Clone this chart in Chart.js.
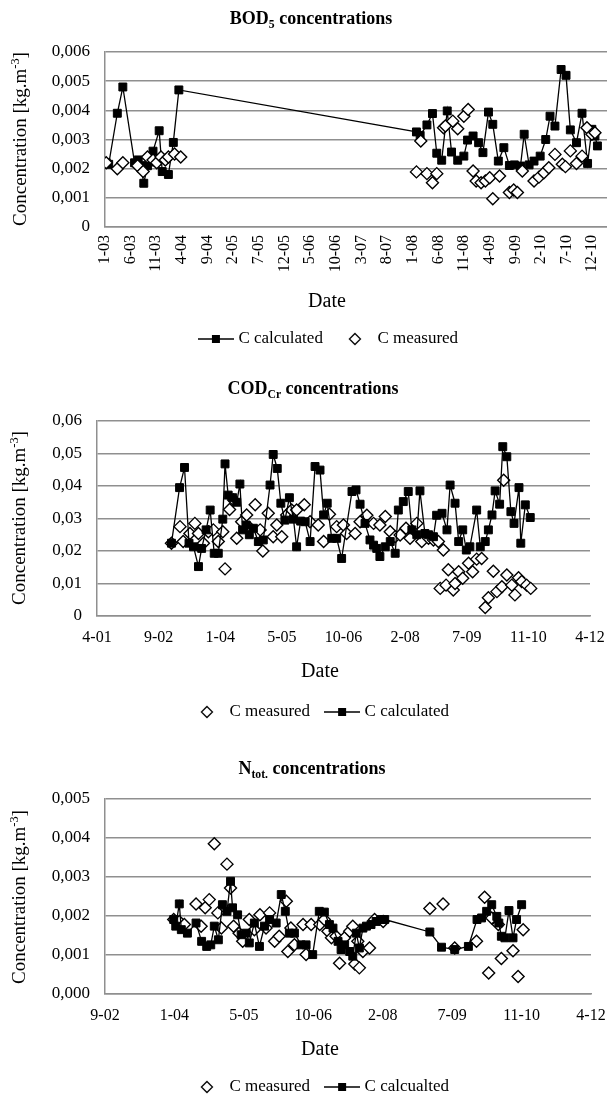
<!DOCTYPE html>
<html>
<head>
<meta charset="utf-8">
<script src="https://cdn.jsdelivr.net/npm/chart.js@4.4.1/dist/chart.umd.min.js"></script>
<style>
    html, body { margin: 0; padding: 0; background: #fff; overflow: hidden; }
    #page { position: relative; width: 607px; height: 1101px; overflow: hidden; font-family: "Liberation Serif", "Times New Roman", serif; color: #000; }
    canvas { position: absolute; left: 0; }
    .label { position: absolute; transform: translate(-50%, -50%); white-space: nowrap; }
    .title { font-weight: bold; font-size: 18px; }
    .date { font-size: 20px; }
    .ytitle { position: absolute; transform: translate(-50%, -50%) rotate(-90deg); white-space: nowrap; font-size: 19px; }
    sub, sup { font-size: 65%; line-height: 0; }
</style>
</head>
<body>
<div id="page">
    <canvas id="bod" width="650" height="365" style="top:0px"></canvas>
    <canvas id="cod" width="607" height="375" style="top:365px"></canvas>
    <canvas id="ntot" width="607" height="370" style="top:740px"></canvas>

    <div class="label title" style="left:311px; top:18px">BOD<sub>5</sub> concentrations</div>
    <div class="ytitle" style="left:20px; top:139px">Concentration [kg.m<sup>-3</sup>]</div>
    <div class="label date" style="left:327px; top:300px">Date</div>

    <div class="label title" style="left:313px; top:388px">COD<sub>Cr</sub> concentrations</div>
    <div class="ytitle" style="left:19px; top:518px">Concentration [kg.m<sup>-3</sup>]</div>
    <div class="label date" style="left:320px; top:670px">Date</div>

    <div class="label title" style="left:312px; top:768px">N<sub>tot.</sub> concentrations</div>
    <div class="ytitle" style="left:19px; top:897px">Concentration [kg.m<sup>-3</sup>]</div>
    <div class="label date" style="left:320px; top:1048px">Date</div>
</div>
<script>
// dates are decimal years, values in kg.m-3

// BOD5
const bodTickLabels = ["1-03", "6-03", "11-03", "4-04", "9-04", "2-05", "7-05", "12-05", "5-06", "10-06",
    "3-07", "8-07", "1-08", "6-08", "11-08", "4-09", "9-09", "2-10", "7-10", "12-10"];

const bodCalcDates = [2003.02, 2003.06, 2003.2, 2003.29, 2003.48, 2003.54, 2003.58, 2003.63, 2003.69, 2003.74,
    2003.78, 2003.88, 2003.93, 2004.03, 2004.11, 2004.2,
    2008.06, 2008.12, 2008.23, 2008.32, 2008.39, 2008.47, 2008.56, 2008.63, 2008.73, 2008.83,
    2008.89, 2008.98, 2009.07, 2009.14, 2009.23, 2009.3, 2009.39, 2009.48, 2009.57, 2009.65,
    2009.75, 2009.81, 2009.89, 2009.97, 2010.07, 2010.16, 2010.23, 2010.31, 2010.41, 2010.49,
    2010.56, 2010.66, 2010.75, 2010.84, 2010.91, 2010.96, 2011.0];
const bodCalcValues = [0.0022, 0.00215, 0.0039, 0.0048, 0.0022, 0.0023, 0.0021, 0.0015, 0.0021, 0.0023,
    0.0026, 0.0033, 0.0019, 0.0018, 0.0029, 0.0047,
    0.00326, 0.00314, 0.0035, 0.00389, 0.00253, 0.00229, 0.00398, 0.00257, 0.00229, 0.00243,
    0.00298, 0.00312, 0.00289, 0.00255, 0.00394, 0.00352, 0.00226, 0.00272, 0.00211, 0.00213,
    0.00209, 0.00318, 0.00213, 0.00226, 0.00243, 0.003, 0.0038, 0.00346, 0.0054, 0.0052,
    0.00333, 0.00289, 0.0039, 0.00218, 0.00335, 0.00312, 0.00278];

const bodMeasDates = [2003.02, 2003.2, 2003.29, 2003.53, 2003.62, 2003.69, 2003.78, 2003.84, 2003.91, 2003.98,
    2004.03, 2004.13, 2004.23,
    2008.06, 2008.13, 2008.23, 2008.32, 2008.39, 2008.5, 2008.53, 2008.65, 2008.73, 2008.83,
    2008.9, 2008.98, 2009.03, 2009.11, 2009.18, 2009.25, 2009.3, 2009.41, 2009.57, 2009.64,
    2009.7, 2009.78, 2009.97, 2010.05, 2010.13, 2010.21, 2010.31, 2010.43, 2010.48, 2010.56,
    2010.66, 2010.75, 2010.83, 2010.91, 2010.96];
const bodMeasValues = [0.0022, 0.002, 0.0022, 0.0021, 0.0019, 0.0024, 0.0023, 0.0022, 0.0024, 0.0023,
    0.0024, 0.0025, 0.0024,
    0.00189, 0.00295, 0.00183, 0.00152, 0.00183, 0.0034, 0.00346, 0.00363, 0.00337, 0.0038,
    0.00403, 0.00192, 0.00158, 0.00152, 0.00158, 0.00169, 0.00097, 0.00175, 0.00118, 0.00127,
    0.00118, 0.00192, 0.00158, 0.00171, 0.00186, 0.00203, 0.00249, 0.00215, 0.00207, 0.00261,
    0.00218, 0.00243, 0.0034, 0.00318, 0.00323];

// CODCr
const codTickLabels = ["4-01", "9-02", "1-04", "5-05", "10-06", "2-08", "7-09", "11-10", "4-12"];

const codCalcDates = [2002.95, 2003.13, 2003.24, 2003.34, 2003.44, 2003.55, 2003.62, 2003.72, 2003.81, 2003.9,
    2003.99, 2004.09, 2004.14, 2004.21, 2004.31, 2004.4, 2004.47, 2004.53, 2004.61, 2004.68,
    2004.77, 2004.88, 2004.99, 2005.14, 2005.21, 2005.3, 2005.38, 2005.47, 2005.57, 2005.66,
    2005.73, 2005.82, 2005.92, 2006.03, 2006.14, 2006.25, 2006.33, 2006.41, 2006.51, 2006.62,
    2006.73, 2006.96, 2007.05, 2007.14, 2007.25, 2007.36, 2007.44, 2007.51, 2007.58, 2007.7,
    2007.81, 2007.92, 2007.99, 2008.1, 2008.21, 2008.29, 2008.4, 2008.47, 2008.58, 2008.66,
    2008.77, 2008.84, 2008.96, 2009.07, 2009.14, 2009.25, 2009.33, 2009.42, 2009.5, 2009.58,
    2009.73, 2009.81, 2009.92, 2009.99, 2010.07, 2010.14, 2010.24, 2010.31, 2010.4, 2010.49,
    2010.56, 2010.67, 2010.71, 2010.81, 2010.92];
const codCalcValues = [0.0224, 0.0395, 0.0457, 0.0224, 0.0213, 0.0152, 0.0208, 0.0265, 0.0326, 0.0193,
    0.0193, 0.0298, 0.0468, 0.0372, 0.0364, 0.035, 0.0406, 0.0265, 0.028, 0.025,
    0.027, 0.0229, 0.0234, 0.0403, 0.0497, 0.0454, 0.0347, 0.0295, 0.0364, 0.0298,
    0.0213, 0.0292, 0.029, 0.0229, 0.046, 0.0449, 0.0311, 0.0347, 0.0239, 0.0239,
    0.0177, 0.0383, 0.0388, 0.0344, 0.0285, 0.0234, 0.0218, 0.0208, 0.0183, 0.0213,
    0.0229, 0.0193, 0.0326, 0.0352, 0.0383, 0.0265, 0.025, 0.0385, 0.0254, 0.025,
    0.0244, 0.031, 0.0316, 0.0265, 0.0403, 0.0347, 0.0229, 0.0265, 0.0203, 0.0213,
    0.0326, 0.0213, 0.0229, 0.0265, 0.0311, 0.0385, 0.0344, 0.0521, 0.049, 0.0321,
    0.0285, 0.0395, 0.0224, 0.0342, 0.0303];

const codMeasDates = [2002.95, 2003.14, 2003.21, 2003.36, 2003.47, 2003.55, 2003.66, 2003.77, 2003.88, 2003.99,
    2004.09, 2004.14, 2004.24, 2004.33, 2004.4, 2004.51, 2004.62, 2004.7, 2004.81, 2004.92,
    2004.98, 2005.1, 2005.21, 2005.29, 2005.4, 2005.51, 2005.62, 2005.73, 2005.9, 2006.03,
    2006.21, 2006.33, 2006.46, 2006.62, 2006.77, 2006.84, 2007.03, 2007.14, 2007.29, 2007.44,
    2007.58, 2007.7, 2007.81, 2007.92, 2008.03, 2008.16, 2008.25, 2008.4, 2008.51, 2008.66,
    2008.77, 2008.88, 2008.92, 2008.99, 2009.05, 2009.1, 2009.21, 2009.25, 2009.33, 2009.42,
    2009.55, 2009.64, 2009.73, 2009.84, 2009.92, 2009.99, 2010.1, 2010.18, 2010.29, 2010.33,
    2010.4, 2010.51, 2010.58, 2010.66, 2010.73, 2010.84, 2010.93];
const codMeasValues = [0.0224, 0.0275, 0.0229, 0.0254, 0.0285, 0.0254, 0.0224, 0.0259, 0.0265, 0.0229,
    0.0259, 0.0145, 0.0328, 0.0357, 0.0239, 0.029, 0.0311, 0.027, 0.0342, 0.0265,
    0.02, 0.0316, 0.0244, 0.028, 0.0244, 0.0311, 0.0326, 0.0326, 0.0342, 0.029,
    0.028, 0.0229, 0.0313, 0.0275, 0.028, 0.0254, 0.0254, 0.029, 0.031, 0.0285,
    0.028, 0.0306, 0.0259, 0.0244, 0.0249, 0.027, 0.0239, 0.0285, 0.0229, 0.0239,
    0.0234, 0.0229, 0.0085, 0.0203, 0.0095, 0.0142, 0.008, 0.01, 0.0136, 0.0116,
    0.0162, 0.0136, 0.0175, 0.0177, 0.0026, 0.0056, 0.0138, 0.0075, 0.009, 0.0418,
    0.0126, 0.0095, 0.0065, 0.0118, 0.0106, 0.0095, 0.0085];

// Ntot.
const ntotTickLabels = ["9-02", "1-04", "5-05", "10-06", "2-08", "7-09", "11-10", "4-12"];

const ntotCalcDates = [2004.02, 2004.06, 2004.13, 2004.17, 2004.29, 2004.46, 2004.57, 2004.67, 2004.75, 2004.82,
    2004.9, 2004.98, 2005.07, 2005.14, 2005.18, 2005.28, 2005.35, 2005.45, 2005.51, 2005.61,
    2005.71, 2005.81, 2005.91, 2006.04, 2006.14, 2006.22, 2006.3, 2006.4, 2006.53, 2006.63,
    2006.76, 2006.89, 2006.99, 2007.09, 2007.16, 2007.26, 2007.32, 2007.39, 2007.49, 2007.55,
    2007.62, 2007.68, 2007.75, 2007.82, 2007.91, 2008.01, 2008.1, 2008.18, 2009.07, 2009.3,
    2009.56, 2009.83, 2010.0, 2010.09, 2010.19, 2010.29, 2010.39, 2010.43, 2010.48, 2010.55,
    2010.63, 2010.71, 2010.78, 2010.88];
const ntotCalcValues = [0.00191, 0.00174, 0.00231, 0.00165, 0.00156, 0.00182, 0.00135, 0.00122, 0.00126, 0.00174,
    0.00139, 0.00229, 0.00212, 0.00289, 0.00221, 0.00203, 0.00152, 0.00156, 0.00131, 0.00182,
    0.00122, 0.00174, 0.00191, 0.00182, 0.00255, 0.00212, 0.00156, 0.00156, 0.00126, 0.00126,
    0.00101, 0.00212, 0.0021, 0.00178, 0.00169, 0.00135, 0.00114, 0.00126, 0.00109, 0.00097,
    0.00156, 0.00118, 0.00169, 0.00174, 0.00178, 0.00186, 0.00191, 0.00191, 0.00159, 0.0012,
    0.00114, 0.00122, 0.00191, 0.00195, 0.00212, 0.00229, 0.00199, 0.00182, 0.00148, 0.00144,
    0.00214, 0.00144, 0.00191, 0.00229];

const ntotMeasDates = [2004.02, 2004.13, 2004.23, 2004.46, 2004.56, 2004.64, 2004.72, 2004.82, 2004.89, 2004.96,
    2005.07, 2005.14, 2005.2, 2005.31, 2005.38, 2005.51, 2005.61, 2005.72, 2005.84, 2005.91,
    2006.01, 2006.1, 2006.24, 2006.27, 2006.33, 2006.4, 2006.57, 2006.63, 2006.73, 2006.9,
    2006.99, 2007.06, 2007.13, 2007.22, 2007.29, 2007.39, 2007.49, 2007.55, 2007.59, 2007.65,
    2007.68, 2007.75, 2007.88, 2007.98, 2008.15, 2009.07, 2009.33, 2009.56, 2009.99, 2010.15,
    2010.23, 2010.29, 2010.42, 2010.48, 2010.71, 2010.81, 2010.91];
const ntotMeasValues = [0.00191, 0.00186, 0.00178, 0.00231, 0.00174, 0.00221, 0.00242, 0.00385, 0.00208, 0.00169,
    0.00333, 0.00272, 0.00174, 0.00156, 0.00135, 0.00191, 0.00165, 0.00203, 0.00169, 0.00208,
    0.00135, 0.00148, 0.00238, 0.00109, 0.00169, 0.00126, 0.00178, 0.00101, 0.00178, 0.00178,
    0.00191, 0.00161, 0.00144, 0.00148, 0.00079, 0.00144, 0.00161, 0.00174, 0.00077, 0.00135,
    0.00067, 0.00109, 0.00118, 0.00191, 0.00186, 0.00219, 0.00231, 0.00118, 0.00135, 0.00248,
    0.00054, 0.00195, 0.00178, 0.00091, 0.00111, 0.00045, 0.00165];

const FONT = "'Liberation Serif', 'Times New Roman', serif";
const GRID = "#8f8f8f";
const DAYS500 = 500 / 365.25;

function points(dates, values) {
    return dates.map(function (d, i) {
        return { x: d, y: values[i] };
    });
}

function lineSquareIcon() {
    const c = document.createElement("canvas");
    c.width = 36;
    c.height = 12;
    const ctx = c.getContext("2d");
    ctx.strokeStyle = "#000";
    ctx.lineWidth = 1.5;
    ctx.beginPath();
    ctx.moveTo(0, 6);
    ctx.lineTo(36, 6);
    ctx.stroke();
    ctx.fillStyle = "#000";
    ctx.fillRect(14, 2, 8, 8);
    return c;
}

function diamondIcon() {
    const c = document.createElement("canvas");
    c.width = 14;
    c.height = 14;
    const ctx = c.getContext("2d");
    ctx.beginPath();
    ctx.moveTo(7, 1.5);
    ctx.lineTo(12.5, 7);
    ctx.lineTo(7, 12.5);
    ctx.lineTo(1.5, 7);
    ctx.closePath();
    ctx.fillStyle = "#fff";
    ctx.fill();
    ctx.strokeStyle = "#000";
    ctx.lineWidth = 1.3;
    ctx.stroke();
    return c;
}

function calcDataset(label, dates, values, order) {
    return {
        label: label,
        data: points(dates, values),
        showLine: true,
        borderColor: "#000",
        borderWidth: 1.3,
        backgroundColor: "#000",
        pointStyle: "rect",
        pointRadius: 5.6,
        pointBorderWidth: 1,
        pointBackgroundColor: "#000",
        pointBorderColor: "#000",
        order: order,
        icon: lineSquareIcon()
    };
}

function measDataset(label, dates, values, order) {
    return {
        label: label,
        data: points(dates, values),
        showLine: false,
        backgroundColor: "#fff",
        borderColor: "#000",
        pointStyle: "rectRot",
        pointRadius: 6,
        pointBorderWidth: 1.4,
        pointBackgroundColor: "#fff",
        pointBorderColor: "#000",
        order: order,
        icon: diamondIcon()
    };
}

function buildChart(id, o) {
    return new Chart(document.getElementById(id), {
        type: "scatter",
        data: { datasets: o.datasets },
        options: {
            responsive: false,
            animation: false,
            layout: { padding: o.padding },
            plugins: {
                tooltip: { enabled: false },
                legend: {
                    position: "bottom",
                    labels: {
                        usePointStyle: true,
                        pointStyleWidth: 28,
                        padding: 18,
                        color: "#000",
                        font: { family: FONT, size: 17 },
                        generateLabels: function (chart) {
                            let items = Chart.defaults.plugins.legend.labels.generateLabels(chart);
                            items.sort(function (a, b) {
                                return a.datasetIndex - b.datasetIndex;
                            });
                            for (let item of items)
                                item.pointStyle = chart.data.datasets[item.datasetIndex].icon;
                            return items;
                        }
                    }
                }
            },
            scales: {
                x: {
                    type: "linear",
                    min: o.xMin,
                    max: o.xMax,
                    afterBuildTicks: function (scale) {
                        scale.ticks = o.tickLabels.map(function (t, k) {
                            return { value: o.xMin + k * o.xStep };
                        });
                    },
                    afterFit: function (scale) {
                        scale.height = o.xHeight;
                    },
                    ticks: {
                        autoSkip: false,
                        minRotation: o.rotation,
                        maxRotation: o.rotation,
                        padding: o.xPad,
                        color: "#000",
                        font: { family: FONT, size: 16 },
                        callback: function (value, index) {
                            return o.tickLabels[index];
                        }
                    },
                    grid: { display: false, drawTicks: true, tickLength: o.xTick },
                    border: { display: true, color: GRID, width: 1.5 }
                },
                y: {
                    min: 0,
                    max: o.yMax,
                    afterFit: function (scale) {
                        scale.width = o.yWidth;
                    },
                    ticks: {
                        stepSize: o.yStep,
                        padding: 15,
                        color: "#000",
                        font: { family: FONT, size: 17 },
                        callback: o.yFormat
                    },
                    grid: { color: GRID, lineWidth: 1.5, drawTicks: false },
                    border: { display: true, color: GRID, width: 1.5 }
                }
            }
        }
    });
}

buildChart("bod", {
    datasets: [
        calcDataset("C calculated", bodCalcDates, bodCalcValues, 1),
        measDataset("C measured", bodMeasDates, bodMeasValues, 0)
    ],
    padding: { top: 52, left: 10, right: 0, bottom: 7.5 },
    tickLabels: bodTickLabels,
    xMin: 2003,
    xMax: 2003 + 545 / 62.4,
    xStep: 5 / 12,
    xHeight: 85.5,
    xPad: 2,
    xTick: 6,
    rotation: 90,
    yMax: 0.006,
    yStep: 0.001,
    yWidth: 95,
    yFormat: function (v) {
        return v === 0 ? "0" : v.toFixed(3).replace(".", ",");
    }
});

buildChart("cod", {
    datasets: [
        measDataset("C measured", codMeasDates, codMeasValues, 1),
        calcDataset("C calculated", codCalcDates, codCalcValues, 0)
    ],
    padding: { top: 56, left: 52, right: 17, bottom: 9.5 },
    tickLabels: codTickLabels,
    xMin: 2001.296,
    xMax: 2001.296 + 8 * DAYS500,
    xStep: DAYS500,
    xHeight: 69.5,
    xPad: 2,
    xTick: 10.6,
    rotation: 0,
    yMax: 0.06,
    yStep: 0.01,
    yWidth: 45,
    yFormat: function (v) {
        return v === 0 ? "0" : v.toFixed(2).replace(".", ",");
    }
});

buildChart("ntot", {
    datasets: [
        measDataset("C measured", ntotMeasDates, ntotMeasValues, 1),
        calcDataset("C calcualted", ntotCalcDates, ntotCalcValues, 0)
    ],
    padding: { top: 59, left: 51, right: 16, bottom: 4.5 },
    tickLabels: ntotTickLabels,
    xMin: 2002.665,
    xMax: 2002.665 + 7 * DAYS500,
    xStep: DAYS500,
    xHeight: 66.5,
    xPad: 1,
    xTick: 11.6,
    rotation: 0,
    yMax: 0.005,
    yStep: 0.001,
    yWidth: 54,
    yFormat: function (v) {
        return v.toFixed(3).replace(".", ",");
    }
});
</script>
</body>
</html>
